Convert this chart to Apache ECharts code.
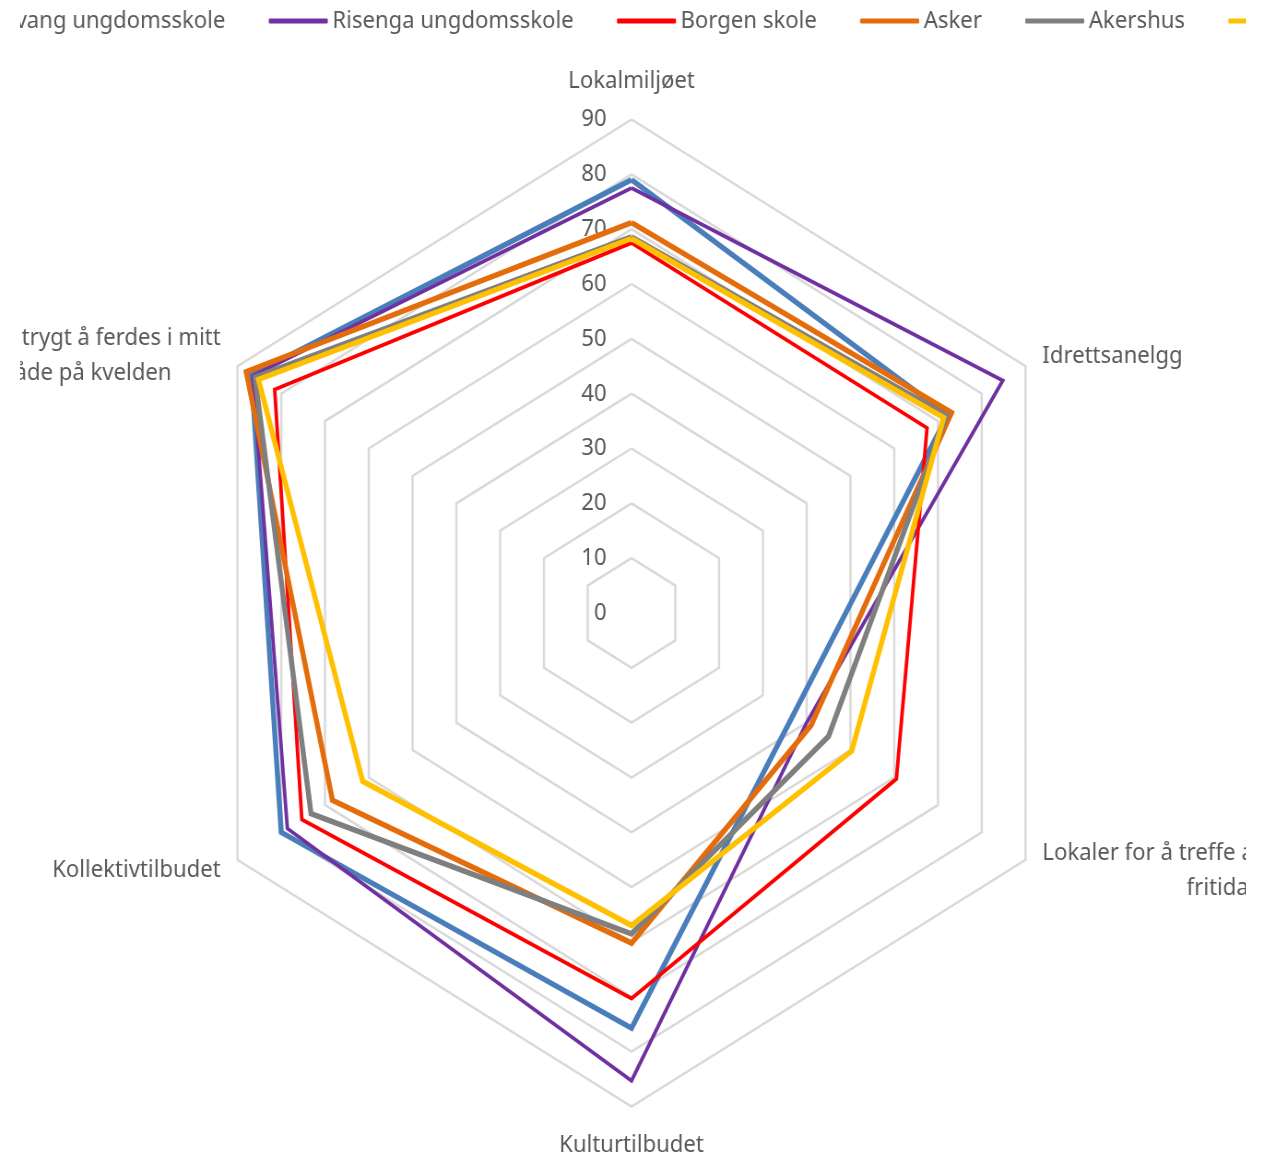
<!DOCTYPE html>
<html><head><meta charset="utf-8">
<script src="https://cdn.jsdelivr.net/npm/echarts@6/dist/echarts.min.js"></script>
<style>
html,body{margin:0;padding:0;background:#fff;width:1266px;height:1158px;overflow:hidden;}
#clip{position:absolute;left:20px;top:0;width:1226px;height:1158px;overflow:hidden;background:#fff;}
#chart{position:absolute;left:-80px;top:0;width:1500px;height:1158px;transform:scaleX(0.922);transform-origin:0 0;}
</style></head><body>
<div id="clip"><div id="chart"></div></div>
<script>
// Indicators in ECharts order (counter-clockwise from the top)
const categories = [
  'Lokalmiljøet',
  'Det oppleves trygt å ferdes i mitt\nnærområde på kvelden',
  'Kollektivtilbudet',
  'Kulturtilbudet',
  'Lokaler for å treffe andre unge på\nfritida',
  'Idrettsanelgg'
];
const tickLabels = ['0','10','20','30','40','50','60','70','80','90'];
const seriesNames = ['Solvang ungdomsskole','Risenga ungdomsskole','Borgen skole','Asker','Akershus','Norge'];
const solvang  = [79.0, 86.8, 80.0, 75.7, 37.0, 72.2];
const risenga  = [77.5, 86.5, 78.6, 85.3, 40.0, 84.8];
const borgen   = [67.5, 81.5, 75.3, 70.3, 60.5, 67.5];
const asker    = [71.2, 88.0, 68.3, 60.2, 41.0, 73.1];
const akershus = [68.6, 86.0, 73.2, 58.5, 45.0, 72.0];
const norge    = [68.3, 85.2, 61.4, 57.0, 50.3, 71.3];

const colors = ['#4A7EBB','#7030A0','#FF0000','#E46C0A','#7F7F7F','#FFC000'];
const widths = [5.5, 3.8, 3.8, 5.5, 5.5, 5.5];
const values = [solvang, risenga, borgen, asker, akershus, norge];
const FONT = 'Noto Sans';
const TXT = '#595959';

const chart = echarts.init(document.getElementById('chart'));
const option = {
  animation: false,
  color: colors,
  legend: {
    data: seriesNames,
    left: -26,
    top: 4,
    width: 2400,
    icon: 'roundRect',
    itemWidth: 64,
    itemHeight: 5,
    itemGap: 47,
    textStyle: { fontFamily: FONT, fontSize: 24, color: TXT }
  },
  radar: {
    center: [750, 613],
    radius: 493.5,
    startAngle: 90,
    shape: 'polygon',
    splitNumber: 9,
    nameGap: 21,
    axisName: {
      formatter: function (name) {
        return name.split('\n').map(function (s) { return '{c|' + s + '}'; }).join('\n');
      },
      rich: { c: { align: 'center', fontFamily: FONT, fontSize: 24, color: TXT, lineHeight: 35 } }
    },
    indicator: categories.map(function (c, i) {
      const ind = { name: c, min: 0, max: 90 };
      if (i === 0) {
        ind.axisLabel = {
          show: true, fontFamily: FONT, fontSize: 24, color: TXT, margin: 27,
          formatter: function (v) { return tickLabels[Math.round(v / 10)]; }
        };
      }
      return ind;
    }),
    axisLine: { show: false },
    axisTick: { show: false },
    axisLabel: { show: false },
    splitLine: { lineStyle: { color: '#D9D9D9', width: 2.5 } },
    splitArea: { show: false }
  },
  series: seriesNames.map(function (n, i) {
    return {
      type: 'radar',
      name: n,
      symbol: 'none',
      lineStyle: { color: colors[i], width: widths[i], join: 'miter' },
      itemStyle: { color: colors[i] },
      data: [{ name: n, value: values[i] }]
    };
  })
};
chart.setOption(option);
</script>
</body></html>
